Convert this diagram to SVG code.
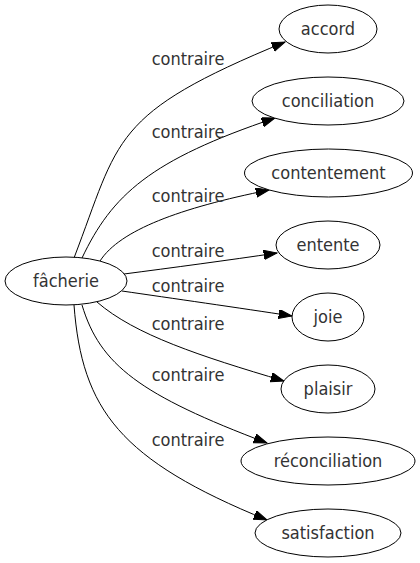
<svg xmlns="http://www.w3.org/2000/svg" width="420" height="563" viewBox="0 0 420 563">
<defs>
<style>
.node ellipse{fill:#fff;stroke:#000;stroke-width:1}
text{font-family:"DejaVu Sans","Liberation Sans",sans-serif;font-stretch:condensed;font-size:18px;fill:#333;text-anchor:middle}
.edges path{fill:none;stroke:#000;stroke-width:1;marker-end:url(#arr)}
</style>
<marker id="arr" markerUnits="userSpaceOnUse" markerWidth="14" markerHeight="10" viewBox="0 0 14 10" refX="13.3" refY="4.67" orient="auto">
<path d="M0,0 L13.3,4.67 L0,9.33 z" fill="#000" stroke="#000" stroke-width="1"/>
</marker>
</defs>
<rect width="420" height="563" fill="#fff"/>
<g class="edges" id="edges">
<path d="M74,258 C120,138 110,114 285,42"/>
<path d="M82,258 C112,195 150,160 275,118"/>
<path d="M100,261 C120,230 180,208 269,190"/>
<path d="M124,274 C170,268 230,260 277,253"/>
<path d="M122,291 C170,298 240,308 292,316"/>
<path d="M97,302 C135,335 200,356 284,381"/>
<path d="M82,305 C100,365 140,395 267,443"/>
<path d="M74,305 C82,410 120,460 267,520"/>
</g>
<g id="labels">
<text x="188" y="65">contraire</text>
<text x="188" y="138">contraire</text>
<text x="188" y="202">contraire</text>
<text x="188" y="257">contraire</text>
<text x="188" y="292">contraire</text>
<text x="188" y="330">contraire</text>
<text x="188" y="381">contraire</text>
<text x="188" y="446">contraire</text>
</g>
<g class="node" id="n-facherie"><ellipse cx="66" cy="281" rx="61" ry="24"/><text x="66" y="287">fâcherie</text></g>
<g class="node" id="n-accord"><ellipse cx="328" cy="29" rx="49" ry="24"/><text x="328" y="35">accord</text></g>
<g class="node" id="n-conciliation"><ellipse cx="328" cy="101" rx="76" ry="24"/><text x="328" y="107">conciliation</text></g>
<g class="node" id="n-contentement"><ellipse cx="328.5" cy="173" rx="84" ry="24"/><text x="328.5" y="179">contentement</text></g>
<g class="node" id="n-entente"><ellipse cx="328" cy="245" rx="52" ry="24"/><text x="328" y="251">entente</text></g>
<g class="node" id="n-joie"><ellipse cx="328" cy="317" rx="36" ry="24"/><text x="328" y="323">joie</text></g>
<g class="node" id="n-plaisir"><ellipse cx="328" cy="389" rx="47" ry="24"/><text x="328" y="395">plaisir</text></g>
<g class="node" id="n-reconciliation"><ellipse cx="328" cy="461" rx="87" ry="24"/><text x="328" y="467">réconciliation</text></g>
<g class="node" id="n-satisfaction"><ellipse cx="328" cy="533" rx="73" ry="24"/><text x="328" y="539">satisfaction</text></g>
</svg>
